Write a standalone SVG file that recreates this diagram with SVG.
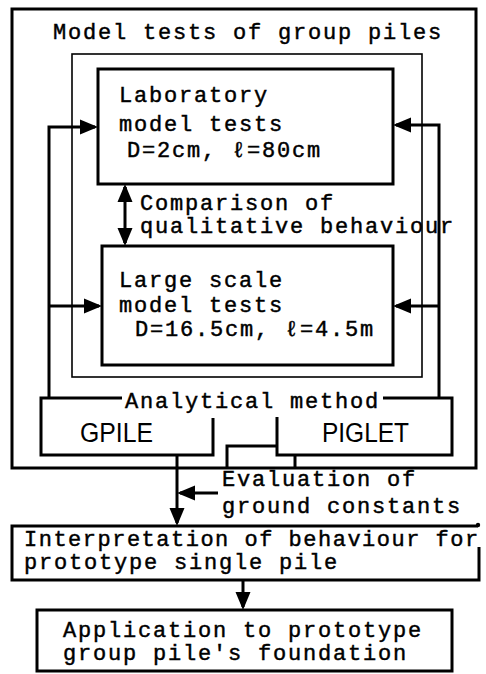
<svg xmlns="http://www.w3.org/2000/svg" width="486" height="674" viewBox="0 0 486 674">
<defs>
<style>
.box{fill:none;stroke:#000;stroke-width:3}
.thin{fill:none;stroke:#000;stroke-width:1.6}
.ln{fill:none;stroke:#000;stroke-width:3}
.t{font-family:"Liberation Mono","DejaVu Sans Mono",monospace;font-size:22px;fill:#000;stroke:#000;stroke-width:0.45;letter-spacing:1.8px}
.s{font-family:"Liberation Sans","Arial",sans-serif;font-size:27px;fill:#000}
</style>
<marker id="ah" markerWidth="6" markerHeight="6" refX="5" refY="3" orient="auto" markerUnits="strokeWidth">
<path d="M0,0.5 L6,3 L0,5.5 Z" fill="#000"/>
</marker>
</defs>
<rect width="486" height="674" fill="#fff"/>
<g id="outer">
<rect class="box" x="12" y="9" width="464" height="459"/>
<text class="t" x="53" y="39">Model tests of group piles</text>
</g>
<g id="frame">
<rect class="thin" x="72" y="54" width="350" height="323"/>
</g>
<g id="lab">
<rect class="box" x="98" y="69" width="295" height="115"/>
<text class="t" x="119" y="102">Laboratory</text>
<text class="t" x="119" y="131">model tests</text>
<text class="t" x="127" y="157">D=2cm, ℓ=80cm</text>
</g>
<g id="large">
<rect class="box" x="102" y="246" width="291" height="119"/>
<text class="t" x="119" y="287">Large scale</text>
<text class="t" x="119" y="312">model tests</text>
<text class="t" x="135" y="336">D=16.5cm, ℓ=4.5m</text>
</g>
<g id="comparison">
<text class="t" x="140" y="210">Comparison of</text>
<text class="t" x="140" y="233">qualitative behaviour</text>
</g>
<g id="analytical">
<path class="box" d="M122,398 H41 V455 H213 V418"/>
<path class="box" d="M383,398 H452 V455 H277 V417"/>
<text class="t" x="125" y="408">Analytical method</text>
<text class="s" x="80" y="442" textLength="73" lengthAdjust="spacingAndGlyphs">GPILE</text>
<text class="s" x="322" y="442" textLength="87" lengthAdjust="spacingAndGlyphs">PIGLET</text>
</g>
<g id="evaluation">
<text class="t" x="222" y="486">Evaluation of</text>
<text class="t" x="222" y="513">ground constants</text>
</g>
<g id="interpretation">
<path class="box" d="M478,526 H12 V580 H479 V547"/>
<circle cx="478" cy="525" r="2.2" fill="#000"/>
<text class="t" x="24" y="546" textLength="456" lengthAdjust="spacing">Interpretation of behaviour for</text>
<text class="t" x="24" y="569">prototype single pile</text>
</g>
<g id="application">
<rect class="box" x="37" y="610" width="415" height="61"/>
<text class="t" x="63" y="637">Application to prototype</text>
<text class="t" x="63" y="660">group pile's foundation</text>
</g>
<g id="connectors">
<path class="ln" d="M49,398 V127 H95" marker-end="url(#ah)"/>
<path class="ln" d="M49,306 H99" marker-end="url(#ah)"/>
<path class="ln" d="M439,398 V125 H396" marker-end="url(#ah)"/>
<path class="ln" d="M439,306 H396" marker-end="url(#ah)"/>
<path class="ln" d="M125,200 V187" marker-end="url(#ah)"/>
<path class="ln" d="M125,230 V243" marker-end="url(#ah)"/>
<path class="ln" d="M125,187 V243"/>
<path class="ln" d="M277,446 H227 V468"/>
<path class="ln" d="M295,455 V468"/>
<path class="ln" d="M177,455 V523" marker-end="url(#ah)"/>
<path class="ln" d="M218,493 H180" marker-end="url(#ah)"/>
<path class="ln" d="M243,580 V607" marker-end="url(#ah)"/>
</g>
</svg>
